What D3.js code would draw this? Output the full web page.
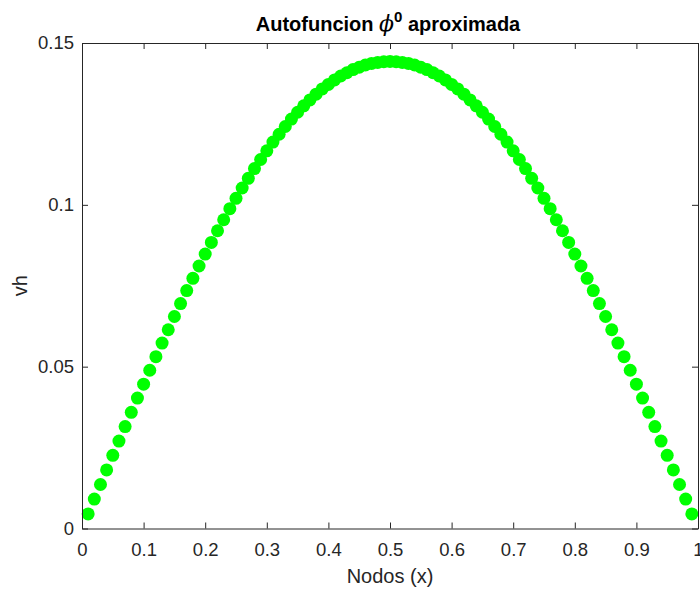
<!DOCTYPE html>
<html><head><meta charset="utf-8">
<script src="https://cdn.jsdelivr.net/npm/d3@7"></script>
<style>body{margin:0;background:#fff;} svg{display:block;}</style>
</head><body>
<script>
const nodes = [0.01,0.02,0.03,0.04,0.05,0.06,0.07,0.08,0.09,0.10,
0.11,0.12,0.13,0.14,0.15,0.16,0.17,0.18,0.19,0.20,
0.21,0.22,0.23,0.24,0.25,0.26,0.27,0.28,0.29,0.30,
0.31,0.32,0.33,0.34,0.35,0.36,0.37,0.38,0.39,0.40,
0.41,0.42,0.43,0.44,0.45,0.46,0.47,0.48,0.49,0.50,
0.51,0.52,0.53,0.54,0.55,0.56,0.57,0.58,0.59,0.60,
0.61,0.62,0.63,0.64,0.65,0.66,0.67,0.68,0.69,0.70,
0.71,0.72,0.73,0.74,0.75,0.76,0.77,0.78,0.79,0.80,
0.81,0.82,0.83,0.84,0.85,0.86,0.87,0.88,0.89,0.90,
0.91,0.92,0.93,0.94,0.95,0.96,0.97,0.98,0.99];
const vh = [0.0045,0.0091,0.0136,0.0181,0.0226,0.0270,0.0315,0.0359,0.0403,0.0446,
0.0489,0.0531,0.0573,0.0614,0.0655,0.0695,0.0735,0.0773,0.0811,0.0848,
0.0884,0.0920,0.0954,0.0988,0.1020,0.1052,0.1082,0.1112,0.1140,0.1167,
0.1194,0.1218,0.1242,0.1265,0.1286,0.1306,0.1324,0.1342,0.1358,0.1372,
0.1386,0.1398,0.1408,0.1418,0.1425,0.1432,0.1437,0.1440,0.1442,0.1443,
0.1442,0.1440,0.1437,0.1432,0.1425,0.1418,0.1408,0.1398,0.1386,0.1372,
0.1358,0.1342,0.1324,0.1306,0.1286,0.1265,0.1242,0.1218,0.1194,0.1167,
0.1140,0.1112,0.1082,0.1052,0.1020,0.0988,0.0954,0.0920,0.0884,0.0848,
0.0811,0.0773,0.0735,0.0695,0.0655,0.0614,0.0573,0.0531,0.0489,0.0446,
0.0403,0.0359,0.0315,0.0270,0.0226,0.0181,0.0136,0.0091,0.0045];
const xTicks = [0,0.1,0.2,0.3,0.4,0.5,0.6,0.7,0.8,0.9,1];
const yTicks = [0,0.05,0.1,0.15];

const W=700,H=592;
const L=82,R=698,T=43,B=528.5;
const svg=d3.select("body").append("svg").attr("width",W).attr("height",H)
  .style("font-family","'Liberation Sans',Arial,Helvetica,sans-serif");
const x=d3.scaleLinear().domain([0,1]).range([L,R]);
const y=d3.scaleLinear().domain([0,0.15]).range([B,T]);
const axCol="#262626";

// points
svg.append("g").selectAll("circle").data(nodes).join("circle")
  .attr("cx",(d)=>x(d)).attr("cy",(d,i)=>y(vh[i])).attr("r",6.5)
  .attr("fill","#00ff00");

// axes
const fmt=d=>d===0?"0":(d===1?"1":String(d));
const gx=svg.append("g").attr("transform",`translate(0,${B})`)
  .call(d3.axisBottom(x).tickValues(xTicks).tickSizeInner(-6).tickSizeOuter(0).tickPadding(14).tickFormat(fmt));
const gxt=svg.append("g").attr("transform",`translate(0,${T})`)
  .call(d3.axisTop(x).tickValues(xTicks).tickSizeInner(-6).tickSizeOuter(0).tickFormat(""));
const gy=svg.append("g").attr("transform",`translate(${L},0)`)
  .call(d3.axisLeft(y).tickValues(yTicks).tickSizeInner(-6).tickSizeOuter(0).tickPadding(8).tickFormat(fmt));
const gyr=svg.append("g").attr("transform",`translate(${R},0)`)
  .call(d3.axisRight(y).tickValues(yTicks).tickSizeInner(-6).tickSizeOuter(0).tickFormat(""));
[gx,gxt,gy,gyr].forEach(g=>{
  g.select(".domain").attr("stroke",axCol).attr("stroke-width",1);
  g.selectAll(".tick line").attr("stroke",axCol);
  g.selectAll(".tick text").attr("fill",axCol).style("font-size","18.5px").style("font-family","'Liberation Sans',Arial,sans-serif");
});

// labels
svg.append("text").attr("x",(L+R)/2).attr("y",583).attr("text-anchor","middle")
  .attr("fill",axCol).style("font-size","20px").text("Nodos (x)");
svg.append("text").attr("transform",`translate(27,${(T+B)/2}) rotate(-90)`).attr("text-anchor","middle")
  .attr("fill",axCol).style("font-size","20px").text("vh");
const title=svg.append("text").attr("x",(L+R)/2 - 2).attr("y",31).attr("text-anchor","middle")
  .attr("fill","#000").style("font-size","20px").style("font-weight","bold");
title.append("tspan").text("Autofuncion ");
title.append("tspan").style("font-style","italic").style("font-weight","normal").style("font-size","22px").style("font-family","'DejaVu Serif','Liberation Serif',serif").text("\u03D5");
title.append("tspan").attr("dy",-9).style("font-size","15px").text("0");
title.append("tspan").attr("dy",9).text(" aproximada");
</script>
</body></html>
